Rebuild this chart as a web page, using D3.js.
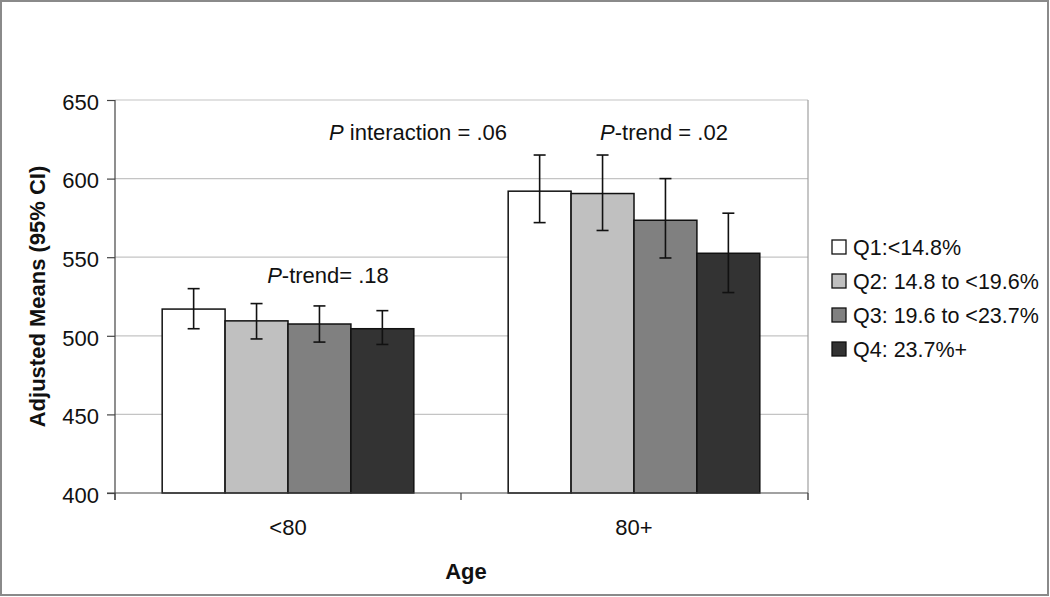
<!DOCTYPE html>
<html>
<head>
<meta charset="utf-8">
<script src="https://cdn.jsdelivr.net/npm/d3@7"></script>
<style>
  html, body { margin: 0; padding: 0; background: #fff; }
  svg { display: block; font-family: "Liberation Sans", Arial, sans-serif; }
</style>
</head>
<body>
<svg id="chart" width="1050" height="597"></svg>
<script>
const categories = ["<80", "80+"];
const seriesNames = ["Q1:<14.8%", "Q2: 14.8 to <19.6%", "Q3: 19.6 to <23.7%", "Q4: 23.7%+"];
const seriesColors = ["#ffffff", "#c0c0c0", "#808080", "#333333"];
// means per series, per category [<80, 80+]
const q1Means = [517, 592];
const q2Means = [509.5, 590.5];
const q3Means = [507.5, 573.5];
const q4Means = [504.5, 552.5];
const q1Lower = [504.5, 572]; const q1Upper = [530, 615];
const q2Lower = [498, 567];   const q2Upper = [520.5, 615];
const q3Lower = [496, 549.5]; const q3Upper = [519, 600];
const q4Lower = [494.5, 527.5]; const q4Upper = [516, 578];
const yTicks = [400, 450, 500, 550, 600, 650];

const means = [q1Means, q2Means, q3Means, q4Means];
const lowers = [q1Lower, q2Lower, q3Lower, q4Lower];
const uppers = [q1Upper, q2Upper, q3Upper, q4Upper];

const data = [];
categories.forEach((c, ci) => {
  seriesNames.forEach((s, si) => {
    data.push({cat: c, series: s, color: seriesColors[si],
      value: means[si][ci], lo: lowers[si][ci], hi: uppers[si][ci]});
  });
});

const svg = d3.select("#chart");
const L = 115, R = 807, T = 100, B = 493;
const FS = 22;

// outer frame
svg.append("rect").attr("x", 1).attr("y", 1).attr("width", 1047).attr("height", 594)
  .attr("fill", "none").attr("stroke", "#8a8a8a").attr("stroke-width", 2);

const y = d3.scaleLinear().domain([400, 650]).range([B, T]);
const x0 = d3.scaleBand().domain(categories).range([L, R]).paddingInner(0).paddingOuter(0);
const x1 = d3.scaleBand().domain(seriesNames).range([0, x0.bandwidth()]).paddingInner(0).paddingOuter(0.75);

// gridlines
svg.append("g").selectAll("line").data(yTicks.filter(t => t > 400)).join("line")
  .attr("x1", L).attr("x2", R + 1).attr("y1", d => y(d)).attr("y2", d => y(d))
  .attr("stroke", "#c4c4c4").attr("stroke-width", 1.2);

// right border of plot area
svg.append("line").attr("x1", R + 1).attr("x2", R + 1).attr("y1", T).attr("y2", B + 7)
  .attr("stroke", "#a0a0a0").attr("stroke-width", 1.2);

// bars
const bars = svg.append("g");
bars.selectAll("rect").data(data).join("rect")
  .attr("x", d => x0(d.cat) + x1(d.series))
  .attr("y", d => y(d.value))
  .attr("width", x1.bandwidth())
  .attr("height", d => y(400) - y(d.value))
  .attr("fill", d => d.color)
  .attr("stroke", "#111").attr("stroke-width", 1.5);

// error bars
const eb = svg.append("g").attr("stroke", "#111").attr("stroke-width", 1.6);
data.forEach(d => {
  const cx = x0(d.cat) + x1(d.series) + x1.bandwidth() / 2;
  eb.append("line").attr("x1", cx).attr("x2", cx).attr("y1", y(d.hi)).attr("y2", y(d.lo));
  eb.append("line").attr("x1", cx - 6).attr("x2", cx + 6).attr("y1", y(d.hi)).attr("y2", y(d.hi));
  eb.append("line").attr("x1", cx - 6).attr("x2", cx + 6).attr("y1", y(d.lo)).attr("y2", y(d.lo));
});

// y axis
const yAxis = svg.append("g").attr("transform", `translate(${L},0)`)
  .call(d3.axisLeft(y).tickValues(yTicks).tickSize(8).tickPadding(8));
yAxis.select(".domain").attr("d", `M0,${T}V${B + 7}`).attr("stroke", "#444").attr("stroke-width", 1.2);
yAxis.selectAll(".tick line").attr("stroke", "#444").attr("stroke-width", 1.2);
yAxis.selectAll(".tick text").attr("font-size", FS).attr("fill", "#111")
  .attr("font-family", "Liberation Sans, Arial, sans-serif").attr("dy", "0.42em");

// x axis
const xAxis = svg.append("g").attr("transform", `translate(0,${B})`);
xAxis.append("line").attr("x1", L - 8).attr("x2", R + 1).attr("y1", 0).attr("y2", 0)
  .attr("stroke", "#444").attr("stroke-width", 1.2);
const xTickPos = [L, L + x0.bandwidth(), R + 1];
xAxis.selectAll("line.t").data(xTickPos).join("line").attr("class", "t")
  .attr("x1", d => d).attr("x2", d => d).attr("y1", 0).attr("y2", 7)
  .attr("stroke", "#444").attr("stroke-width", 1.2);
xAxis.selectAll("text").data(categories).join("text")
  .attr("x", d => x0(d) + x0.bandwidth() / 2).attr("y", 42)
  .attr("text-anchor", "middle").attr("font-size", FS).attr("fill", "#111")
  .text(d => d);

// axis titles
svg.append("text").attr("x", 466).attr("y", 579).attr("text-anchor", "middle")
  .attr("font-size", FS).attr("font-weight", "bold").attr("fill", "#111").text("Age");
svg.append("text").attr("transform", `translate(45,${(T + B) / 2}) rotate(-90)`)
  .attr("text-anchor", "middle").attr("font-size", FS).attr("font-weight", "bold")
  .attr("fill", "#111").text("Adjusted Means (95% CI)");

// annotations
function annot(xc, yb, rest) {
  const t = svg.append("text").attr("x", xc).attr("y", yb).attr("text-anchor", "middle")
    .attr("font-size", FS).attr("fill", "#111");
  t.append("tspan").attr("font-style", "italic").text("P");
  t.append("tspan").text(rest);
}
annot(418, 140, " interaction = .06");
annot(664, 140, "-trend = .02");
annot(328, 283, "-trend= .18");

// legend
const legend = svg.append("g");
const legY = [247, 281, 315, 349];
seriesNames.forEach((s, i) => {
  legend.append("rect").attr("x", 832).attr("y", legY[i] - 7).attr("width", 14).attr("height", 14)
    .attr("fill", seriesColors[i]).attr("stroke", "#111").attr("stroke-width", 1.3);
  legend.append("text").attr("x", 853).attr("y", legY[i]).attr("dy", "0.36em")
    .attr("font-size", 21.5).attr("fill", "#111").text(s);
});
</script>
</body>
</html>
